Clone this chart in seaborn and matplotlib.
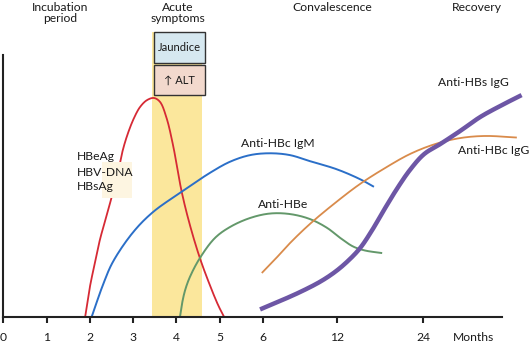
import matplotlib
matplotlib.use("Agg")
import matplotlib.pyplot as plt
import seaborn as sns
import numpy as np
from matplotlib.patches import Rectangle

# ---------------- data (x = position on the time axis, y = relative level 0-100) --------------
tick_pos = [0, 1, 2, 3, 4, 5, 6, 7.71, 9.7]
tick_labels = ["0", "1", "2", "3", "4", "5", "6", "12", "24"]

red_x = [1.89, 2.00, 2.12, 2.23, 2.37, 2.51, 2.65, 2.76, 2.88, 3.02, 3.16, 3.32, 3.48,
         3.62, 3.77, 3.92, 4.12, 4.31, 4.54, 4.77, 4.96, 5.10]
red_y = [0, 11.5, 21.0, 29.4, 37.8, 46.2, 55.3, 63.7, 70.2, 76.0, 80.2, 82.8, 83.6,
         82.1, 76.0, 65.6, 47.8, 35.1, 22.5, 12.2, 4.6, 0]

blue_x = [2.04, 2.30, 2.53, 3.00, 3.46, 4.12, 4.77, 5.24, 5.70, 6.16, 6.62, 7.08, 7.70, 8.24, 8.56]
blue_y = [0, 12.2, 21.0, 32.4, 40.1, 47.8, 55.0, 59.3, 61.8, 62.5, 61.8, 59.5, 56.4, 52.6, 49.7]

green_x = [4.08, 4.13, 4.20, 4.31, 4.54, 4.89, 5.24, 5.70, 6.16, 6.62, 7.08, 7.48, 7.78,
           8.08, 8.35, 8.75]
green_y = [0, 5.3, 10.3, 15.3, 22.5, 30.2, 34.4, 37.8, 39.5, 39.3, 37.4, 34.0, 30.2,
           26.9, 25.4, 24.4]

orange_x = [5.97, 6.28, 6.62, 7.08, 7.66, 8.24, 8.82, 9.39, 9.97, 10.55, 11.13, 11.86]
orange_y = [16.8, 22.1, 28.2, 35.5, 43.5, 50.8, 56.9, 62.2, 66.0, 68.3, 69.1, 68.5]

purple_x = [5.93, 6.39, 6.85, 7.31, 7.66, 7.96, 8.24, 8.52, 8.79, 9.09, 9.39, 9.72, 10.09,
            10.55, 11.01, 11.47, 11.97]
purple_y = [2.9, 6.1, 9.5, 13.4, 17.2, 21.4, 26.3, 33.2, 40.8, 48.9, 56.1, 62.2, 66.0,
            71.0, 76.3, 80.5, 84.7]

acute_band = (3.44, 4.60)          # jaundice / ALT period
phase_labels = ["Incubation\nperiod", "Acute\nsymptoms", "Convalescence", "Recovery"]


def smooth(xs, ys, n=20, sx=43.3, sy=2.62):
    """Centripetal Catmull-Rom rendering of a curve through the read points."""
    P = np.column_stack([np.asarray(xs) * sx, np.asarray(ys) * sy])
    P = np.vstack([2 * P[0] - P[1], P, 2 * P[-1] - P[-2]])
    out = [P[1]]
    for i in range(1, len(P) - 2):
        p0, p1, p2, p3 = P[i - 1], P[i], P[i + 1], P[i + 2]
        t0 = 0.0
        t1 = t0 + np.linalg.norm(p1 - p0) ** 0.5
        t2 = t1 + np.linalg.norm(p2 - p1) ** 0.5
        t3 = t2 + np.linalg.norm(p3 - p2) ** 0.5
        t = np.linspace(t1, t2, n)[1:, None]
        a1 = (t1 - t) / (t1 - t0) * p0 + (t - t0) / (t1 - t0) * p1
        a2 = (t2 - t) / (t2 - t1) * p1 + (t - t1) / (t2 - t1) * p2
        a3 = (t3 - t) / (t3 - t2) * p2 + (t - t2) / (t3 - t2) * p3
        b1 = (t2 - t) / (t2 - t0) * a1 + (t - t0) / (t2 - t0) * a2
        b2 = (t3 - t) / (t3 - t1) * a2 + (t - t1) / (t3 - t1) * a3
        c = (t2 - t) / (t2 - t1) * b1 + (t - t1) / (t2 - t1) * b2
        out.extend(c)
    out = np.array(out)
    return out[:, 0] / sx, out[:, 1] / sy


# ---------------- figure ----------------
sns.set_theme(style="white")
plt.rcParams["font.family"] = ["Lato", "DejaVu Sans"]
TXT = "#1a1a1a"
FS = 8.7

fig = plt.figure(figsize=(5.3, 3.44), dpi=100)
ax = fig.add_axes([0, 0, 1, 1])
ax.set_xlim(-0.076, 12.164)
ax.set_ylim(-10.3, 121.0)

# acute-phase band and boxes
ax.add_patch(Rectangle((acute_band[0], 0), acute_band[1] - acute_band[0], 108.8,
                       facecolor="#fbe79c", edgecolor="none", zorder=0))
bx0, bx1 = 3.47, 4.65
ax.add_patch(Rectangle((bx0, 96.9), bx1 - bx0, 11.9, facecolor="#d6e8f0",
                       edgecolor="#333333", lw=1.0, zorder=3))
ax.add_patch(Rectangle((bx0, 84.7), bx1 - bx0, 11.5, facecolor="#f2d9cd",
                       edgecolor="#333333", lw=1.0, zorder=3))
ax.text((bx0 + bx1) / 2, 102.8, "Jaundice", ha="center", va="center", fontsize=8.0,
        color=TXT, zorder=4)
ax.text((bx0 + bx1) / 2, 90.4, "↑ ALT", ha="center", va="center", fontsize=8.0,
        color=TXT, zorder=4)

# curves
series = [
    (red_x, red_y, "#d62a35", 1.3),
    (blue_x, blue_y, "#2b6fc8", 1.4),
    (green_x, green_y, "#63986a", 1.4),
    (orange_x, orange_y, "#d98b4b", 1.3),
    (purple_x, purple_y, "#6d56a5", 3.2),
]
for xs, ys, col, lw in series:
    sx_, sy_ = smooth(xs, ys)
    sns.lineplot(x=sx_, y=sy_, ax=ax, color=col, lw=lw, sort=False, estimator=None,
                 solid_capstyle="butt", zorder=2)

# cream label background for HBeAg/HBV-DNA/HBsAg
ax.add_patch(Rectangle((2.273, 45.5), 0.692, 13.8, facecolor="#fdf5e1",
                       edgecolor="none", zorder=2.5))
for lbl, yv in zip(["HBeAg", "HBV-DNA", "HBsAg"], [61.2, 55.3, 49.7]):
    ax.text(1.70, yv, lbl, ha="left", va="center", fontsize=FS, color=TXT, zorder=4)

ax.text(6.344, 66.4, "Anti-HBc IgM", ha="center", va="center", fontsize=FS, color=TXT)
ax.text(6.459, 43.1, "Anti-HBe", ha="center", va="center", fontsize=FS, color=TXT)
ax.text(10.85, 89.7, "Anti-HBs IgG", ha="center", va="center", fontsize=FS, color=TXT)
ax.text(12.14, 63.4, "Anti-HBc IgG", ha="right", va="center", fontsize=FS, color=TXT)
ax.text(10.85, -7.9, "Months", ha="center", va="center", fontsize=FS, color=TXT)

# phase headers
hdr_x = [60, 178, 332, 477]
for lbl, px in zip(phase_labels, hdr_x):
    fig.text(px / 530, 1 - 2 / 344, lbl, ha="center", va="top", fontsize=FS,
             color=TXT, linespacing=1.05)

# axes
for s in ["top", "right"]:
    ax.spines[s].set_visible(False)
ax.spines["left"].set_position(("data", 0))
ax.spines["bottom"].set_position(("data", 0))
ax.spines["left"].set_bounds(0, 100)
ax.spines["bottom"].set_bounds(0, 11.52)
for s in ["left", "bottom"]:
    ax.spines[s].set_color("#222222")
    ax.spines[s].set_linewidth(1.5)
    ax.spines[s].set_zorder(5)
ax.set_xticks(tick_pos)
ax.set_xticklabels(tick_labels, fontsize=FS, color=TXT)
ax.tick_params(axis="x", direction="out", length=4.5, width=1.5, color="#222222", pad=6.5,
               bottom=True)
ax.tick_params(axis="y", left=False, labelleft=False)
ax.set_yticks([])
ax.grid(False)
ax.set_facecolor("white")

fig.savefig("out.png", dpi=100)
